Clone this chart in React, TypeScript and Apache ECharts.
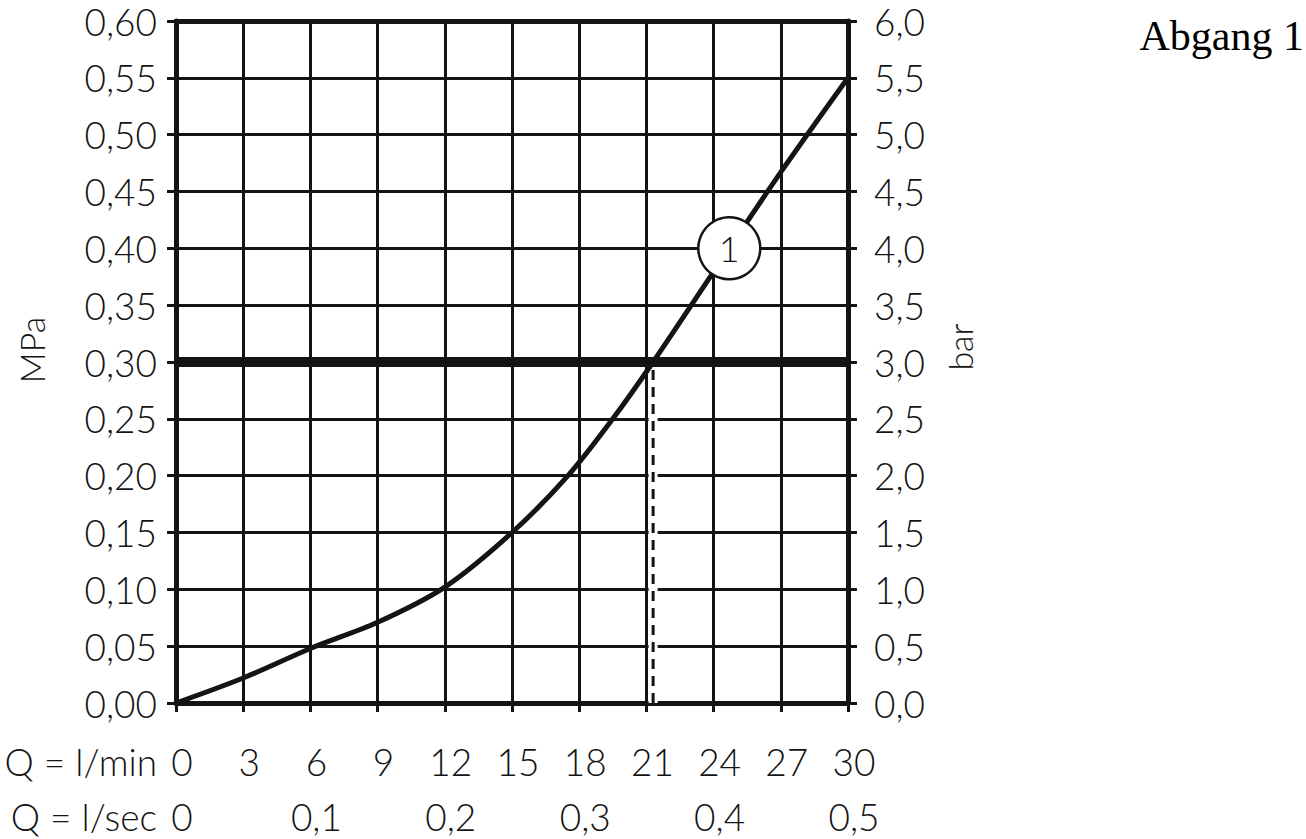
import React, { useEffect, useRef } from "react";
import * as echarts from "echarts";

const flowLpm = [0, 3, 6, 9, 12, 15, 17.5, 19.5, 21.3, 24.7, 27, 30];
const pressureMPa = [0, 0.022, 0.048, 0.071, 0.102, 0.15, 0.2, 0.25, 0.3, 0.4, 0.467, 0.55];
const limitMPa = 0.3;
const limitFlow = 21.3;
const curveLabel = { x: 24.7, y: 0.4, text: "1" };
const title = "Abgang 1";
const rowLabels = ["Q = l/min", "Q = l/sec"];
const leftName = "MPa";
const rightName = "bar";

const FONT = "Lato";
const WEIGHT = 300;
const INK = "#141414";

export default function App() {
  const ref = useRef<HTMLDivElement>(null);
  useEffect(() => {
    if (!ref.current) return;
    const chart = echarts.init(ref.current, null, { renderer: "svg" });
    const labelStyle = { fontFamily: FONT, fontWeight: WEIGHT, fontSize: 37, color: INK };
    const option: any = {
      animation: false,
      backgroundColor: "#ffffff",
      grid: { left: 176, right: 458, top: 21, bottom: 136, containLabel: false },
      xAxis: [
        {
          type: "value",
          position: "bottom",
          min: 0,
          max: 30,
          interval: 3,
          axisLine: { show: true, onZero: false, lineStyle: { color: INK, width: 5 } },
          axisTick: { show: true, inside: false, length: 9, lineStyle: { color: INK, width: 3 } },
          splitLine: { show: true, lineStyle: { color: INK, width: 3 } },
          axisLabel: { ...labelStyle, margin: 40, padding: [0, 0, 0, 12], showMinLabel: true, showMaxLabel: true },
        },
        {
          type: "value",
          position: "bottom",
          offset: 55,
          min: 0,
          max: 0.5,
          interval: 0.1,
          axisLine: { show: false },
          axisTick: { show: false },
          splitLine: { show: false },
          axisLabel: {
            ...labelStyle,
            margin: 40,
            padding: [0, 0, 0, 12],
            formatter: (v: number) => (v === 0 ? "0" : v.toFixed(1).replace(".", ",")),
          },
        },
        {
          type: "value",
          position: "top",
          min: 0,
          max: 30,
          interval: 3,
          axisLine: { show: true, onZero: false, lineStyle: { color: INK, width: 5 } },
          axisTick: { show: false },
          splitLine: { show: false },
          axisLabel: { show: false },
        },
      ],
      yAxis: [
        {
          type: "value",
          position: "left",
          min: 0,
          max: 0.6,
          interval: 0.05,
          axisLine: { show: true, onZero: false, lineStyle: { color: INK, width: 5 } },
          axisTick: { show: true, inside: false, length: 9, lineStyle: { color: INK, width: 3 } },
          splitLine: { show: true, lineStyle: { color: INK, width: 3 } },
          axisLabel: {
            ...labelStyle,
            margin: 19,
            formatter: (v: number) => v.toFixed(2).replace(".", ","),
          },
        },
        {
          type: "value",
          position: "right",
          min: 0,
          max: 6,
          interval: 0.5,
          axisLine: { show: true, onZero: false, lineStyle: { color: INK, width: 5 } },
          axisTick: { show: true, inside: false, length: 9, lineStyle: { color: INK, width: 3 } },
          splitLine: { show: false },
          axisLabel: {
            ...labelStyle,
            margin: 26,
            formatter: (v: number) => v.toFixed(1).replace(".", ","),
          },
        },
      ],
      graphic: [
        {
          type: "text",
          right: 2,
          top: 15,
          style: { text: title, fontFamily: "Liberation Serif", fontSize: 42, fill: "#000" },
        },
        {
          type: "text",
          x: 157,
          y: 761,
          style: { text: rowLabels[0], align: "right", verticalAlign: "middle", fontFamily: FONT, fontWeight: WEIGHT, fontSize: 37, fill: INK },
        },
        {
          type: "text",
          x: 157,
          y: 816,
          style: { text: rowLabels[1], align: "right", verticalAlign: "middle", fontFamily: FONT, fontWeight: WEIGHT, fontSize: 37, fill: INK },
        },
        {
          type: "text",
          x: 31,
          y: 350,
          rotation: Math.PI / 2,
          style: { text: leftName, align: "center", verticalAlign: "middle", fontFamily: FONT, fontWeight: WEIGHT, fontSize: 34, fill: INK },
        },
        {
          type: "text",
          x: 959,
          y: 347,
          rotation: Math.PI / 2,
          style: { text: rightName, align: "center", verticalAlign: "middle", fontFamily: FONT, fontWeight: WEIGHT, fontSize: 34, fill: INK },
        },
      ],
      series: [
        {
          type: "line",
          xAxisIndex: 0,
          yAxisIndex: 0,
          data: [
            [limitFlow, 0],
            [limitFlow, limitMPa],
          ],
          symbol: "none",
          lineStyle: { color: "#ffffff", width: 9 },
          z: 3,
        },
        {
          type: "line",
          xAxisIndex: 0,
          yAxisIndex: 0,
          data: [
            [limitFlow, 0],
            [limitFlow, limitMPa],
          ],
          symbol: "none",
          lineStyle: { color: INK, width: 3, type: [10, 7] },
          z: 4,
        },
        {
          type: "line",
          xAxisIndex: 0,
          yAxisIndex: 0,
          data: [
            [0, limitMPa],
            [30, limitMPa],
          ],
          symbol: "none",
          lineStyle: { color: INK, width: 10 },
          z: 5,
        },
        {
          type: "line",
          xAxisIndex: 0,
          yAxisIndex: 0,
          data: flowLpm.map((x, i) => [x, pressureMPa[i]]),
          symbol: "none",
          smooth: 0.3,
          lineStyle: { color: INK, width: 5, cap: "round" },
          z: 6,
        },
        {
          type: "scatter",
          xAxisIndex: 0,
          yAxisIndex: 0,
          data: [[curveLabel.x, curveLabel.y]],
          symbol: "circle",
          symbolSize: 62,
          itemStyle: { color: "#ffffff", borderColor: INK, borderWidth: 2.5, opacity: 1 },
          label: {
            show: true,
            position: "inside",
            formatter: curveLabel.text,
            fontFamily: FONT,
            fontWeight: WEIGHT,
            fontSize: 36,
            color: INK,
          },
          z: 7,
        },
      ],
    };
    chart.setOption(option);
    return () => chart.dispose();
  }, []);
  return (
    <div
      ref={ref}
      style={{ position: "fixed", left: 0, top: 0, width: 1306, height: 839, background: "#fff" }}
    />
  );
}
